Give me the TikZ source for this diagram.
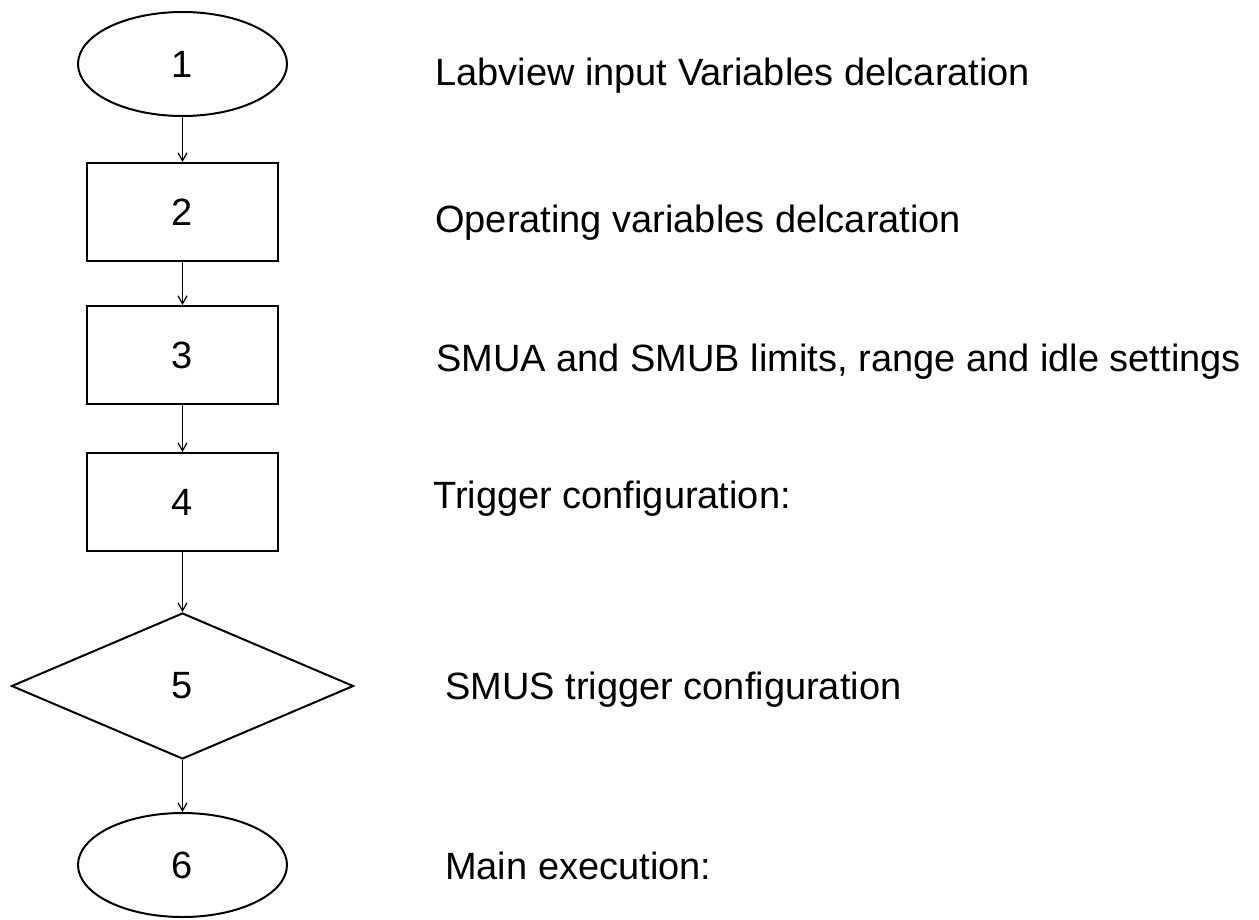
\documentclass[tikz,border=0pt]{standalone}
\usepackage{fontspec}
\setmainfont{Liberation Sans}
\usetikzlibrary{shapes.geometric,arrows.meta}
\begin{document}
\begin{tikzpicture}[x=1pt,y=-1pt,
  every node/.style={font=\fontsize{38}{45}\selectfont},
  shapeline/.style={draw=black,line width=2pt,inner sep=0pt},
  oval/.style={shapeline,ellipse,minimum width=209pt,minimum height=104pt},
  stepbox/.style={shapeline,rectangle,minimum width=191pt,minimum height=98pt},
  choice/.style={shapeline,diamond,minimum width=342pt,minimum height=146pt},
  flow/.style={line width=1.2pt,-{Straight Barb[length=8pt,width=9pt,line width=1.2pt]}},
  note/.style={anchor=base west,inner sep=0pt}
]
\useasboundingbox (0,0) rectangle (1259,919);

% flowchart column
\node[oval]     (s1) at (182.5,64)  {1};
\node[stepbox]  (s2) at (182.5,212) {2};
\node[stepbox]  (s3) at (182.5,355) {3};
\node[stepbox]  (s4) at (182.5,502) {4};
\node[choice]   (s5) at (182.5,686) {5};
\node[oval]     (s6) at (182.5,865) {6};

\draw[flow] (s1.south) -- (s2.north);
\draw[flow] (s2.south) -- (s3.north);
\draw[flow] (s3.south) -- (s4.north);
\draw[flow] (s4.south) -- (s5.north);
\draw[flow] (s5.south) -- (s6.north);

% descriptions
\node[note] (t1) at (435,85)    {Labview input Variables delcaration};
\node[note] (t2) at (435,232)   {Operating variables delcaration};
\node[note] (t3) at (436,371.5) {SMUA and SMUB limits, range and idle settings};
\node[note] (t4) at (433,508)   {Trigger configuration:};
\node[note] (t5) at (445,699)   {SMUS trigger configuration};
\node[note] (t6) at (445,879)   {Main execution:};
\end{tikzpicture}
\end{document}
